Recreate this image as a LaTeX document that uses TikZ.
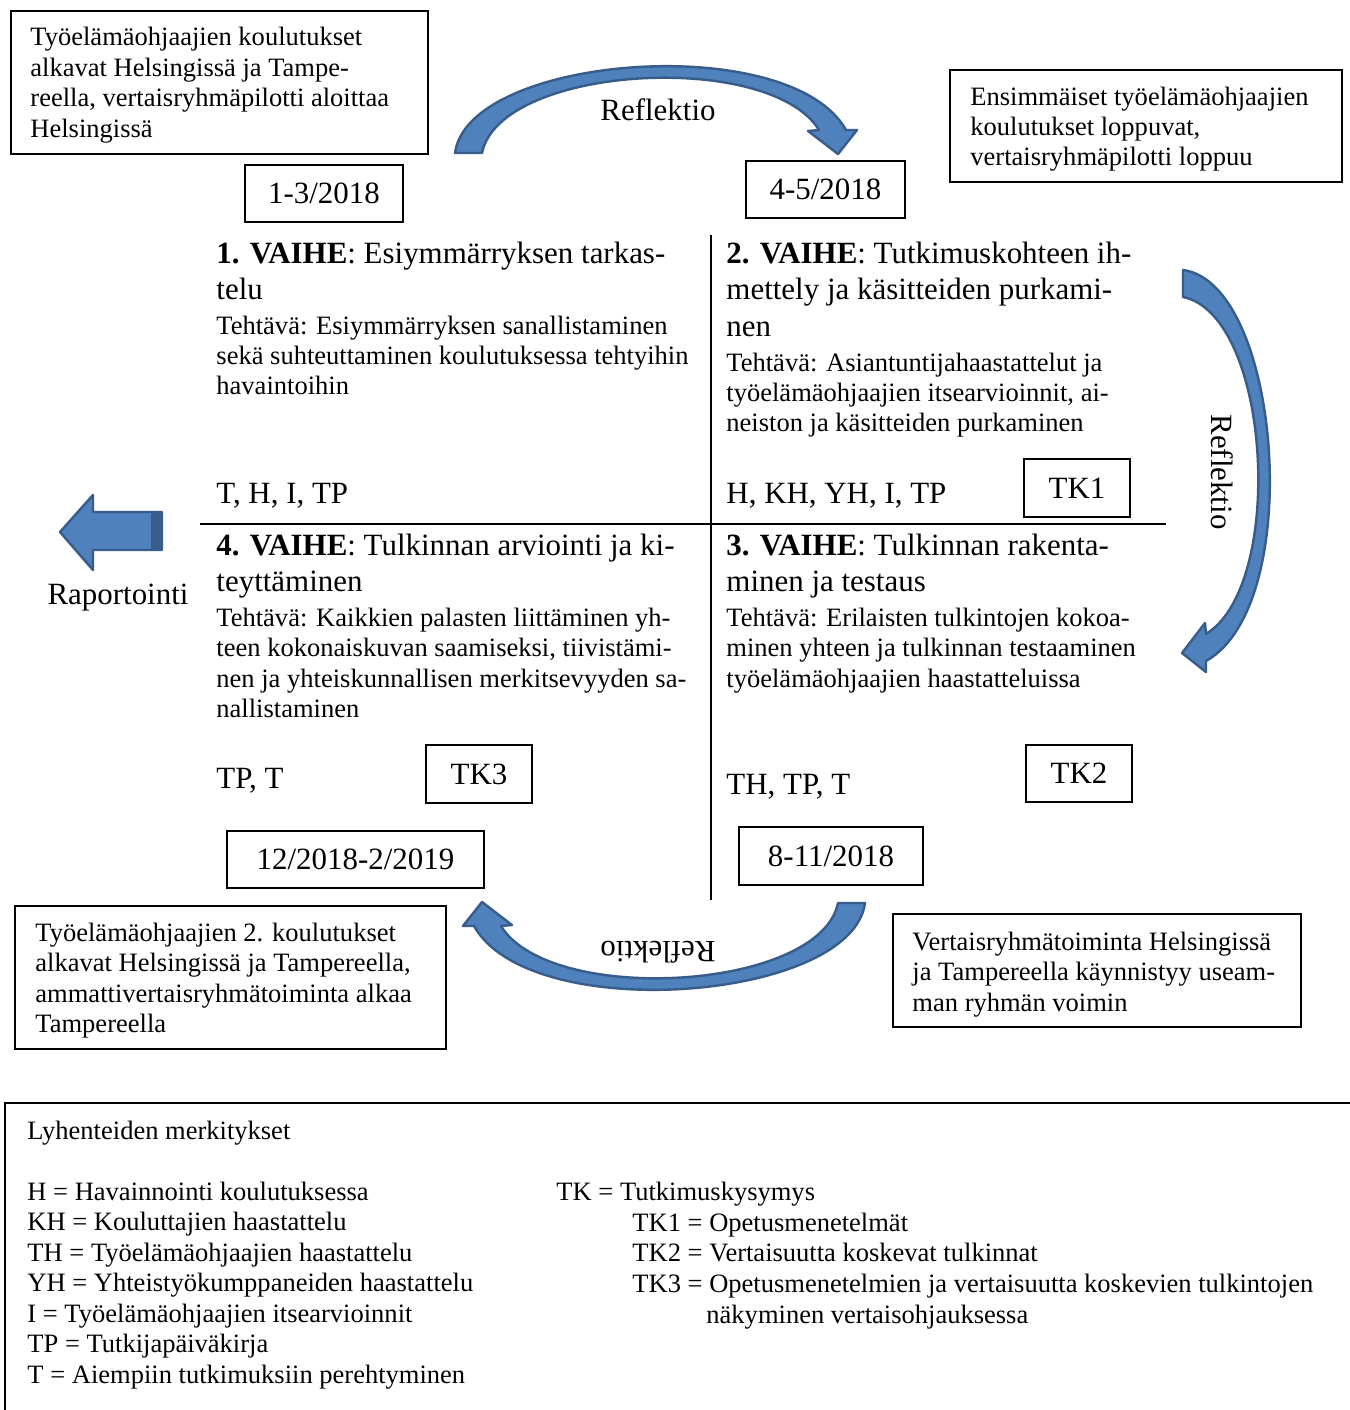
\documentclass[tikz,border=0pt]{standalone}
\usepackage{fontspec}
\setmainfont{Liberation Serif}
\newcommand\pxu{0.4525pt}
\newcommand\ml[1]{\begin{tabular}[t]{@{}l@{}}#1\end{tabular}}
\definecolor{arrowfill}{RGB}{79,129,189}
\definecolor{arrowline}{RGB}{56,93,138}
\begin{document}
\begin{tikzpicture}[x=0.4525pt,y=-0.4525pt,
  body/.style={font=\fontsize{12}{13.8}\selectfont, inner sep=0pt, anchor=base west},
  big/.style={font=\fontsize{14}{16.7}\selectfont, inner sep=0pt, anchor=base west},
  evbox/.style={draw, line width=0.8pt, anchor=north west, inner sep=0pt},
  datebox/.style={draw, line width=0.8pt, font=\fontsize{14}{16}\selectfont, inner sep=0pt},
  curvarrow/.style={fill=arrowfill, draw=arrowline, line width=1.1pt, line join=round},
  lbl/.style={font=\fontsize{14}{16}\selectfont, inner sep=0pt},
  rulestyle/.style={line width=0.9pt}]
\fill[white] (0,0) rectangle (1350,1410);
\useasboundingbox (0,0) rectangle (1350,1410);

% curved arrows
\filldraw[curvarrow] (455,153) .. controls (468,55) and (790,30) .. (846,130) -- (857,130) -- (838,154) -- (808,131) -- (819,130) .. controls (770,50) and (500,65) .. (482,153) -- cycle;
\begin{scope}[rotate around={-90:(760.5,575.5)}]
\filldraw[curvarrow] (455,153) .. controls (468,55) and (790,30) .. (846,130) -- (857,130) -- (838,154) -- (808,131) -- (819,130) .. controls (770,50) and (500,65) .. (482,153) -- cycle;
\end{scope}
\begin{scope}[rotate around={180:(660,528)}]
\filldraw[curvarrow] (455,153) .. controls (468,55) and (790,30) .. (846,130) -- (857,130) -- (838,154) -- (808,131) -- (819,130) .. controls (770,50) and (500,65) .. (482,153) -- cycle;
\end{scope}
\node[lbl] (r1) at (658,110) {Reflektio};
\node[lbl, rotate=-90] (r2) at (1222,472) {Reflektio};
\node[lbl, rotate=180] (r3) at (658,952) {Reflektio};

% reporting arrow
\filldraw[curvarrow] (60,532) -- (93,495) -- (93,512) -- (162,512) -- (162,550) -- (93,550) -- (93,570) -- cycle;
\fill[arrowline] (151,513) rectangle (161,549);
\node[lbl] (rap) at (118,598) {Raportointi};

% event boxes
\node[evbox, minimum width=417*\pxu, minimum height=143*\pxu] (ev1) at (10,10) {};
\node[body] (ev1t) at (30,46) {\ml{Työelämäohjaajien koulutukset\\alkavat Helsingissä ja Tampe-\\reella, vertaisryhmäpilotti aloittaa\\Helsingissä}};
\node[evbox, minimum width=392*\pxu, minimum height=112*\pxu] (ev2) at (949,69) {};
\node[body] (ev2t) at (970,105) {\ml{Ensimmäiset työelämäohjaajien\\koulutukset loppuvat,\\vertaisryhmäpilotti loppuu}};
\node[evbox, minimum width=431*\pxu, minimum height=143*\pxu] (ev3) at (14,905) {};
\node[body] (ev3t) at (35,941) {\ml{Työelämäohjaajien 2. koulutukset\\alkavat Helsingissä ja Tampereella,\\ammattivertaisryhmätoiminta alkaa\\Tampereella}};
\node[evbox, minimum width=408*\pxu, minimum height=113*\pxu] (ev4) at (892,913) {};
\node[body] (ev4t) at (912,950) {\ml{Vertaisryhmätoiminta Helsingissä\\ja Tampereella käynnistyy useam-\\man ryhmän voimin}};

% date boxes
\node[datebox, minimum width=158*\pxu, minimum height=57*\pxu] (d1) at (324,193.5) {1-3/2018};
\node[datebox, minimum width=159*\pxu, minimum height=57*\pxu] (d2) at (825.5,189.5) {4-5/2018};
\node[datebox, minimum width=184*\pxu, minimum height=58*\pxu] (d3) at (831,856) {8-11/2018};
\node[datebox, minimum width=257*\pxu, minimum height=57*\pxu] (d4) at (355.5,859.5) {12/2018-2/2019};
\node[datebox, minimum width=106*\pxu, minimum height=58*\pxu] (tk1) at (1077,488) {TK1};
\node[datebox, minimum width=106*\pxu, minimum height=57*\pxu] (tk2) at (1079,773.5) {TK2};
\node[datebox, minimum width=106*\pxu, minimum height=58*\pxu] (tk3) at (479,774) {TK3};

% quadrant rules
\coordinate (hl) at (200,524);
\coordinate (hr) at (1166,524);
\coordinate (vt) at (711,235);
\coordinate (vb) at (711,900);
\draw[rulestyle] (hl) -- (hr);
\draw[rulestyle] (vt) -- (vb);

% phase 1
\node[big] (p1h) at (216,263) {\ml{\textbf{1. VAIHE}: Esiymmärryksen tarkas-\\telu}};
\node[body] (p1t) at (216,334) {\ml{Tehtävä: Esiymmärryksen sanallistaminen\\sekä suhteuttaminen koulutuksessa tehtyihin\\havaintoihin}};
\node[big] (p1d) at (216,503) {T, H, I, TP};
% phase 2
\node[big] (p2h) at (726,263) {\ml{\textbf{2. VAIHE}: Tutkimuskohteen ih-\\mettely ja käsitteiden purkami-\\nen}};
\node[body] (p2t) at (726,371) {\ml{Tehtävä: Asiantuntijahaastattelut ja\\työelämäohjaajien itsearvioinnit, ai-\\neiston ja käsitteiden purkaminen}};
\node[big] (p2d) at (726,503) {H, KH, YH, I, TP};
% phase 4
\node[big] (p4h) at (216,555) {\ml{\textbf{4. VAIHE}: Tulkinnan arviointi ja ki-\\teyttäminen}};
\node[body] (p4t) at (216,626) {\ml{Tehtävä: Kaikkien palasten liittäminen yh-\\teen kokonaiskuvan saamiseksi, tiivistämi-\\nen ja yhteiskunnallisen merkitsevyyden sa-\\nallistaminen}};
\node[big] (p4d) at (216,788) {TP, T};
% phase 3
\node[big] (p3h) at (726,555) {\ml{\textbf{3. VAIHE}: Tulkinnan rakenta-\\minen ja testaus}};
\node[body] (p3t) at (726,626) {\ml{Tehtävä: Erilaisten tulkintojen kokoa-\\minen yhteen ja tulkinnan testaaminen\\työelämäohjaajien haastatteluissa}};
\node[big] (p3d) at (726,794) {TH, TP, T};

% legend
\coordinate (lgtr) at (1350,1103);
\coordinate (lgtl) at (5,1103);
\coordinate (lgbl) at (5,1410);
\draw[line width=0.9pt] (lgtr) -- (lgtl) -- (lgbl);
\node[body] (lg0) at (27,1139) {Lyhenteiden merkitykset};
\node[body] (lg1) at (27,1200) {\ml{H = Havainnointi koulutuksessa\\KH = Kouluttajien haastattelu\\TH = Työelämäohjaajien haastattelu\\YH = Yhteistyökumppaneiden haastattelu\\I = Työelämäohjaajien itsearvioinnit\\TP = Tutkijapäiväkirja\\T = Aiempiin tutkimuksiin perehtyminen}};
\node[body] (lg2) at (556,1200) {TK = Tutkimuskysymys};
\node[body] (lg3) at (632,1231) {\ml{TK1 = Opetusmenetelmät\\TK2 = Vertaisuutta koskevat tulkinnat\\TK3 = Opetusmenetelmien ja vertaisuutta koskevien tulkintojen}};
\node[body] (lg4) at (706,1323) {näkyminen vertaisohjauksessa};
\end{tikzpicture}
\end{document}
